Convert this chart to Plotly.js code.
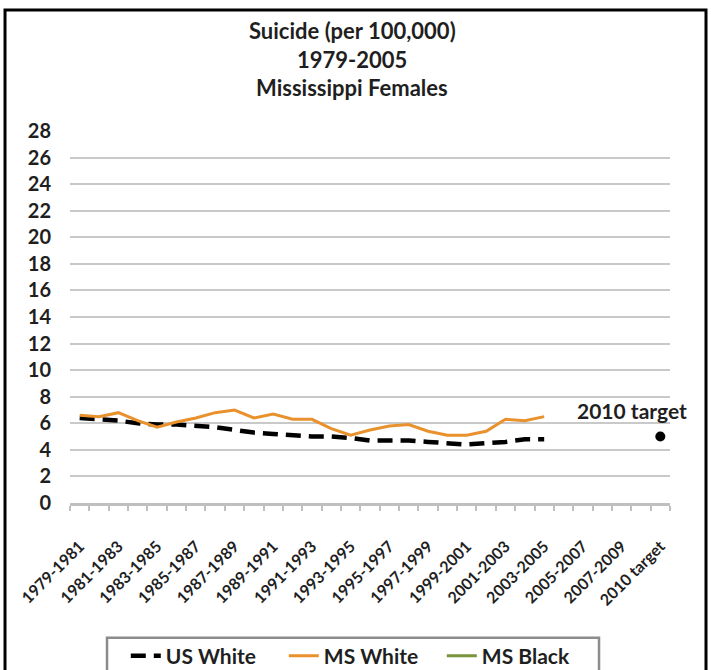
<!DOCTYPE html>
<html>
<head>
<meta charset="utf-8">
<script src="https://cdn.plot.ly/plotly-3.0.1.min.js"></script>
<style>
  html, body { margin: 0; padding: 0; background: #fff; }
  #chart { width: 711px; height: 670px; }
</style>
</head>
<body>
<div id="chart"></div>
<script>
// Three-year rolling periods plus the 2010 target slot
const periods = [
  '1979-1981', '1980-1982', '1981-1983', '1982-1984', '1983-1985', '1984-1986',
  '1985-1987', '1986-1988', '1987-1989', '1988-1990', '1989-1991', '1990-1992',
  '1991-1993', '1992-1994', '1993-1995', '1994-1996', '1995-1997', '1996-1998',
  '1997-1999', '1998-2000', '1999-2001', '2000-2002', '2001-2003', '2002-2004',
  '2003-2005', '2004-2006', '2005-2007', '2006-2008', '2007-2009', '2008-2010',
  '2010 target'
];

// Labels shown on the axis (every other period)
const tickLabels = [
  '1979-1981', '1981-1983', '1983-1985', '1985-1987', '1987-1989', '1989-1991',
  '1991-1993', '1993-1995', '1995-1997', '1997-1999', '1999-2001', '2001-2003',
  '2003-2005', '2005-2007', '2007-2009', '2010 target'
];

// Suicide rate per 100,000, females
const usWhite = [6.4, 6.3, 6.2, 6.0, 5.9, 5.9, 5.8, 5.7, 5.5, 5.3, 5.2, 5.1, 5.0,
                 5.0, 4.9, 4.7, 4.7, 4.7, 4.6, 4.5, 4.4, 4.5, 4.6, 4.8, 4.8];
const msWhite = [6.6, 6.5, 6.8, 6.2, 5.7, 6.1, 6.4, 6.8, 7.0, 6.4, 6.7, 6.3, 6.3,
                 5.6, 5.1, 5.5, 5.8, 5.9, 5.4, 5.1, 5.1, 5.4, 6.3, 6.2, 6.5];
const msBlack = [];

const targetPeriod = ['2010 target'];
const targetValue = [5.0];

const FONT = 'Lato, Calibri, "Open Sans", sans-serif';
const TEXT = '#1f1f1f';

const traces = [
  {
    name: 'US White',
    x: periods.slice(0, usWhite.length),
    y: usWhite,
    type: 'scatter',
    mode: 'lines',
    line: { color: '#000000', width: 4.5, dash: '15px,8px' }
  },
  {
    name: 'MS White',
    x: periods.slice(0, msWhite.length),
    y: msWhite,
    type: 'scatter',
    mode: 'lines',
    line: { color: '#E8912D', width: 3 }
  },
  {
    name: 'MS Black',
    x: msBlack.length ? periods.slice(0, msBlack.length) : [periods[0]],
    y: msBlack.length ? msBlack : [null],
    type: 'scatter',
    mode: 'lines',
    line: { color: '#77933C', width: 3 },
    xaxis: 'x2'
  },
  {
    name: '2010 target',
    x: targetPeriod,
    y: targetValue,
    type: 'scatter',
    mode: 'markers',
    marker: { color: '#000000', size: 10 },
    showlegend: false
  }
];

const layout = {
  width: 711,
  height: 670,
  margin: { l: 70, r: 41, t: 131, b: 167, autoexpand: false },
  paper_bgcolor: '#ffffff',
  plot_bgcolor: '#ffffff',
  font: { family: FONT, color: TEXT },
  showlegend: true,
  xaxis: {
    type: 'category',
    automargin: false,
    categoryorder: 'array',
    categoryarray: periods,
    range: [-0.5, periods.length - 0.5],
    tickson: 'boundaries',
    ticks: 'outside',
    ticklen: 5,
    tickwidth: 2,
    tickcolor: '#bfbfbf',
    showticklabels: false,
    showgrid: false,
    showline: true,
    linecolor: '#bfbfbf',
    linewidth: 2.5,
    zeroline: false,
    fixedrange: true
  },
  xaxis2: {
    type: 'category',
    automargin: false,
    overlaying: 'x',
    anchor: 'y',
    side: 'bottom',
    categoryorder: 'array',
    categoryarray: periods,
    range: [-0.5, periods.length - 0.5],
    tickmode: 'array',
    tickvals: tickLabels,
    ticktext: tickLabels,
    tickangle: -45,
    ticks: '',
    ticklabelstandoff: 30,
    tickfont: { family: FONT, size: 16, color: TEXT, weight: 'bold' },
    showgrid: false,
    showline: false,
    zeroline: false,
    fixedrange: true
  },
  yaxis: {
    automargin: false,
    range: [0, 28],
    tickmode: 'linear',
    tick0: 0,
    dtick: 2,
    ticks: '',
    ticklabelstandoff: 18,
    tickfont: { family: FONT, size: 20, color: TEXT, weight: 'bold' },
    showgrid: true,
    gridcolor: '#c9c9c9',
    gridwidth: 2,
    zeroline: false,
    showline: false,
    fixedrange: true
  },
  legend: {
    orientation: 'h',
    x: 0.093,
    y: -0.4113,
    xanchor: 'left',
    yanchor: 'middle',
    bgcolor: 'rgba(0,0,0,0)',
    borderwidth: 0,
    font: { family: FONT, size: 21, color: TEXT, weight: 'bold' },
    itemwidth: 30,
    entrywidth: 113,
    entrywidthmode: 'pixels'
  },
  annotations: [
    {
      text: 'Suicide (per 100,000)',
      xref: 'paper', yref: 'paper', x: 0.47, y: 1.2715,
      xanchor: 'center', yanchor: 'middle', showarrow: false,
      font: { family: FONT, size: 22, color: TEXT, weight: 'bold' }
    },
    {
      text: '1979-2005',
      xref: 'paper', yref: 'paper', x: 0.47, y: 1.1935,
      xanchor: 'center', yanchor: 'middle', showarrow: false,
      font: { family: FONT, size: 22, color: TEXT, weight: 'bold' }
    },
    {
      text: 'Mississippi Females',
      xref: 'paper', yref: 'paper', x: 0.47, y: 1.1156,
      xanchor: 'center', yanchor: 'middle', showarrow: false,
      font: { family: FONT, size: 22, color: TEXT, weight: 'bold' }
    },
    {
      text: '2010 target',
      xref: 'x', yref: 'y', x: targetPeriod[0], y: targetValue[0],
      xanchor: 'center', yanchor: 'middle', xshift: -28, yshift: 26,
      showarrow: false,
      font: { family: FONT, size: 21, color: TEXT, weight: 'bold' }
    }
  ],
  shapes: [
    {
      // outer chart frame
      type: 'rect', xref: 'paper', yref: 'paper',
      x0: -0.1083, x1: 1.06, y0: -0.5, y1: 1.325,
      line: { color: '#000000', width: 3 },
      fillcolor: 'rgba(0,0,0,0)',
      layer: 'below'
    },
    {
      // legend box
      type: 'rect', xref: 'paper', yref: 'paper',
      x0: 0.0617, x1: 0.8817, y0: -0.5, y1: -0.362,
      line: { color: '#8c8c8c', width: 2.5 },
      fillcolor: '#ffffff',
      layer: 'below'
    }
  ]
};

Plotly.newPlot('chart', traces, layout, { displayModeBar: false, staticPlot: true });
</script>
</body>
</html>
